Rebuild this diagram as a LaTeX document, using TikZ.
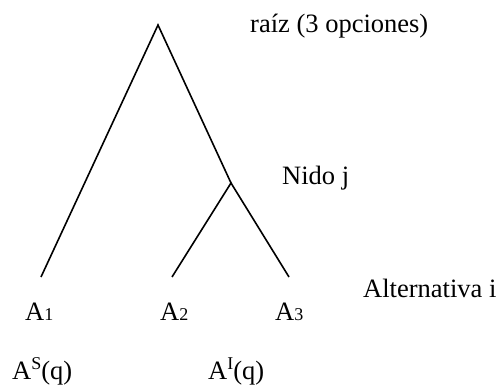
\documentclass[tikz,border=0pt]{standalone}
\usepackage{fontspec}
\setmainfont{Liberation Serif}
\begin{document}
\begin{tikzpicture}[x=1pt,y=-1pt,
  branch/.style={line width=1.6pt},
  lbl/.style={anchor=base west,inner sep=0pt,font=\fontsize{26.5}{30}\selectfont}]
\useasboundingbox (0,0) rectangle (498,385);
\newcommand{\smallidx}[1]{{\fontsize{18}{20}\selectfont #1}}
\coordinate (root) at (158,25);
\coordinate (nest) at (231,183);
\coordinate (l1) at (41,277);
\coordinate (l2) at (172,277);
\coordinate (l3) at (289,277);
\draw[branch] (l1) -- (root) -- (nest);
\draw[branch] (l2) -- (nest) -- (l3);
\node[lbl] (raiz) at (250,33) {raíz (3 opciones)};
\node[lbl] (nido) at (282,185) {Nido j};
\node[lbl] (alt) at (363,297) {Alternativa i};
\node[lbl] (a1) at (25,320) {A\smallidx{1}};
\node[lbl] (a2) at (160,320) {A\smallidx{2}};
\node[lbl] (a3) at (275,320) {A\smallidx{3}};
\node[lbl] (as) at (12,379) {A\raisebox{9.5pt}{\smallidx{S}}(q)};
\node[lbl] (ai) at (208,379) {A\raisebox{9.5pt}{\smallidx{I}}(q)};
\end{tikzpicture}
\end{document}
